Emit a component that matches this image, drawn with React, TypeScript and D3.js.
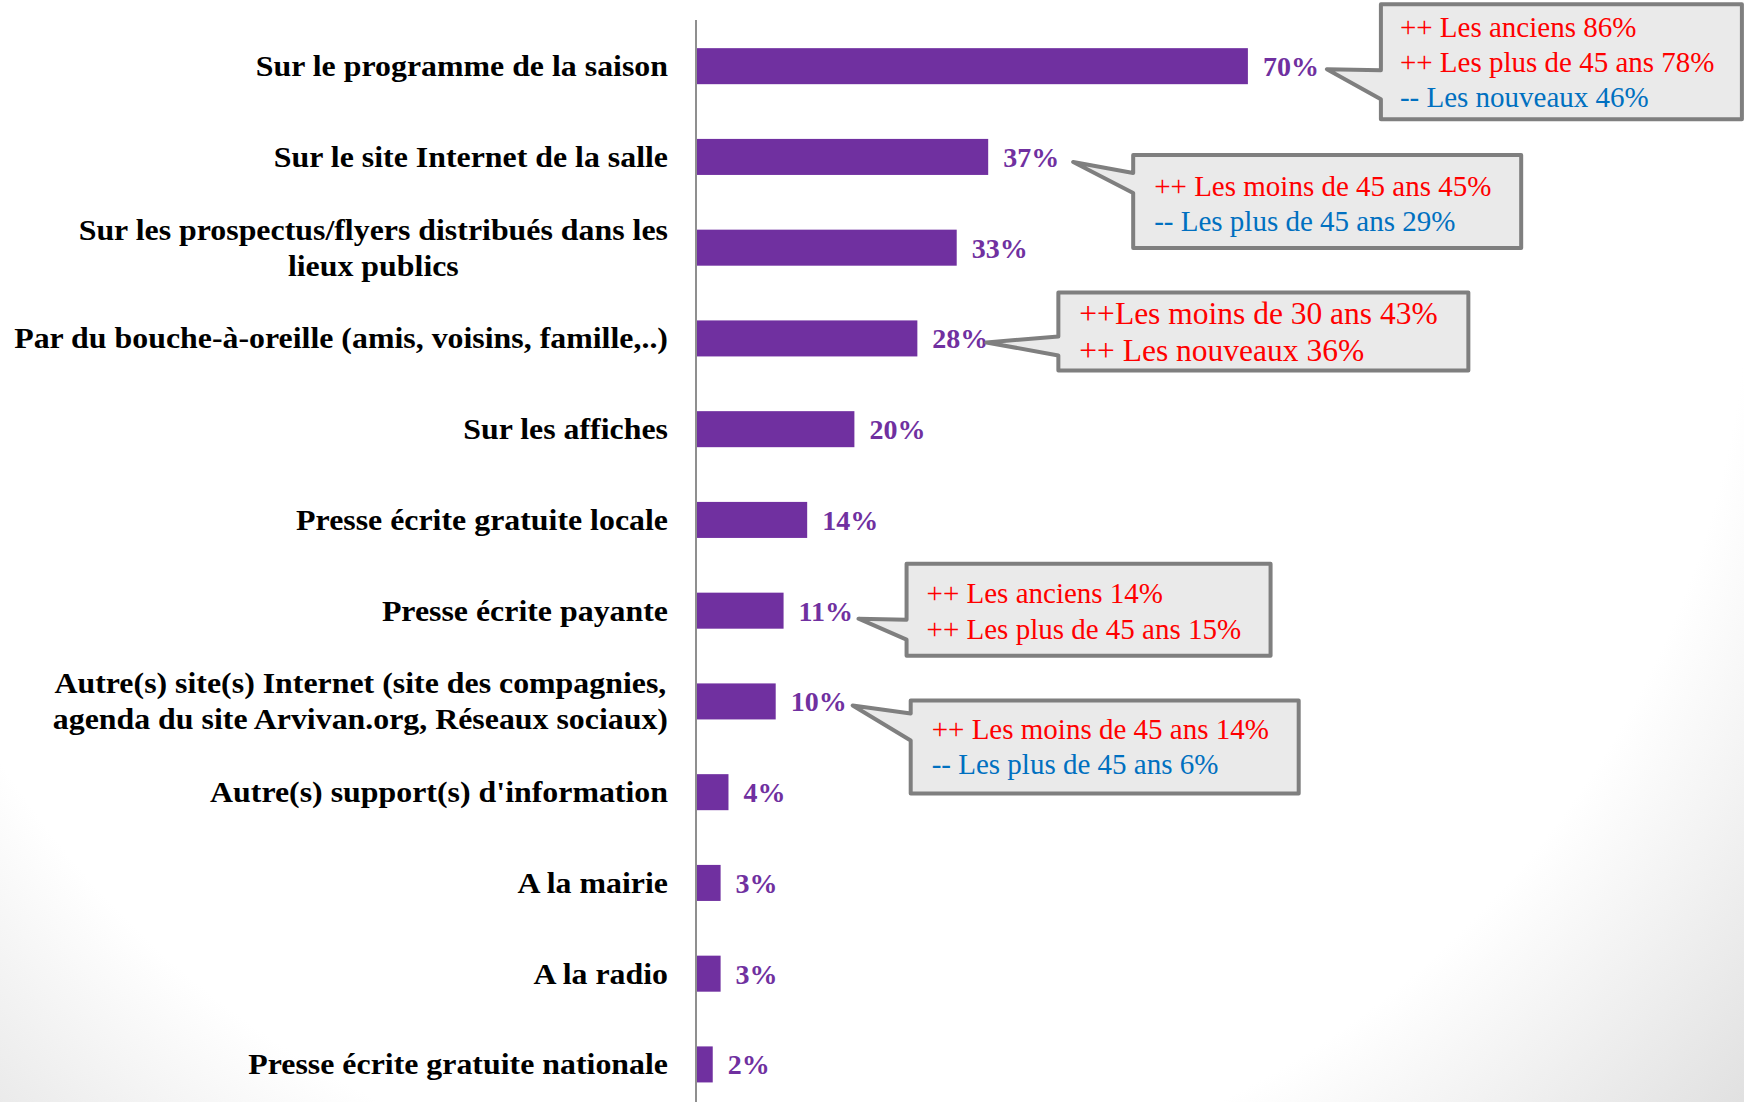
import React, { useEffect, useRef } from "react";
import * as d3 from "d3";

// ---------- DATA ----------
const categories: string[][] = [
  ["Sur le programme de la saison"],
  ["Sur le site Internet de la salle"],
  ["Sur les prospectus/flyers distribués dans les", "lieux publics"],
  ["Par du bouche-à-oreille (amis, voisins, famille,..)"],
  ["Sur les affiches"],
  ["Presse écrite gratuite locale"],
  ["Presse écrite payante"],
  ["Autre(s) site(s) Internet (site des compagnies,", "agenda du site Arvivan.org, Réseaux sociaux)"],
  ["Autre(s) support(s) d'information"],
  ["A la mairie"],
  ["A la radio"],
  ["Presse écrite gratuite nationale"],
];
const values: number[] = [0.7, 0.37, 0.33, 0.28, 0.2, 0.14, 0.11, 0.1, 0.04, 0.03, 0.03, 0.02];

const RED = "#FF0000";
const BLUE = "#0070C0";
const calloutRows: number[] = [0, 1, 3, 6, 7];
const calloutTexts: string[][] = [
  ["++ Les anciens 86%", "++ Les plus de 45 ans 78%", "-- Les nouveaux 46%"],
  ["++ Les moins de 45 ans 45%", "-- Les plus de 45 ans 29%"],
  ["++Les moins de 30 ans 43%", "++ Les nouveaux 36%"],
  ["++ Les anciens 14%", "++ Les plus de 45 ans 15%"],
  ["++ Les moins de 45 ans 14%", "-- Les plus de 45 ans 6%"],
];
const calloutColors: string[][] = [
  [RED, RED, BLUE],
  [RED, BLUE],
  [RED, RED],
  [RED, RED],
  [RED, BLUE],
];

// ---------- LAYOUT (annotation placement, not data) ----------
const calloutLayout = [
  { tipDx: 79, tipDy: 3, boxDx: 54, boxDy: -65, w: 361, h: 115, b0: 1, b1: 30, padX: 19, first: 33, gap: 35, fs: 29 },
  { tipDx: 85, tipDy: 5, boxDx: 60, boxDy: -7, w: 388, h: 93, b0: 11, b1: 31, padX: 21, first: 41, gap: 35, fs: 29 },
  { tipDx: 69, tipDy: 4, boxDx: 72, boxDy: -50, w: 410, h: 78, b0: -6, b1: 13, padX: 21, first: 32, gap: 37, fs: 31.5 },
  { tipDx: 75, tipDy: 8, boxDx: 48, boxDy: -55, w: 364, h: 92, b0: 1, b1: 21, padX: 20, first: 39, gap: 36, fs: 29 },
  { tipDx: 77, tipDy: 4, boxDx: 58, boxDy: -5, w: 388, h: 93, b0: 8, b1: 35, padX: 21, first: 39, gap: 35, fs: 29 },
];

const W = 1744;
const H = 1102;
const FONT = "'Liberation Serif', 'Times New Roman', serif";
const PURPLE = "#7030A0";

export default function App() {
  const ref = useRef<SVGSVGElement | null>(null);

  useEffect(() => {
    const svg = d3.select(ref.current);
    svg.selectAll("*").remove();

    const defs = svg.append("defs");
    const grad = defs
      .append("radialGradient")
      .attr("id", "bg")
      .attr("gradientUnits", "userSpaceOnUse")
      .attr("cx", 800)
      .attr("cy", 250)
      .attr("r", 1300);
    grad.append("stop").attr("offset", 0).attr("stop-color", "#ffffff");
    grad.append("stop").attr("offset", 0.73).attr("stop-color", "#ffffff");
    grad.append("stop").attr("offset", 1).attr("stop-color", "#dedede");

    svg.append("rect").attr("width", W).attr("height", H).attr("fill", "url(#bg)");

    const idx = d3.range(categories.length).map(String);
    const y = d3
      .scaleBand<string>()
      .domain(idx)
      .range([20.8, 1109.8])
      .paddingInner(0.603)
      .paddingOuter(0.3015);
    const x = d3.scaleLinear().domain([0, 1]).range([697, 697 + 787]);
    const fmt = d3.format(".0%");

    const cy = (i: number) => (y(String(i)) as number) + y.bandwidth() / 2;

    // axis line
    svg
      .append("line")
      .attr("x1", 696)
      .attr("x2", 696)
      .attr("y1", 20)
      .attr("y2", H)
      .attr("stroke", "#8f8f8f")
      .attr("stroke-width", 2);

    // bars
    svg
      .append("g")
      .selectAll("rect")
      .data(values)
      .join("rect")
      .attr("x", x(0))
      .attr("y", (_d, i) => y(String(i)) as number)
      .attr("width", (d) => x(d) - x(0))
      .attr("height", y.bandwidth())
      .attr("fill", PURPLE);

    // value labels
    svg
      .append("g")
      .selectAll("text")
      .data(values)
      .join("text")
      .attr("x", (d) => x(d) + 15)
      .attr("y", (_d, i) => cy(i) + 10)
      .attr("font-family", FONT)
      .attr("font-weight", "bold")
      .attr("font-size", 28)
      .attr("fill", PURPLE)
      .text((d) => fmt(d));

    // category labels
    const labelRight = 668;
    const stretch = 1.045;
    categories.forEach((lines, i) => {
      const c = cy(i);
      const g = svg
        .append("g")
        .attr("transform", `translate(${labelRight},0) scale(${stretch},1) translate(${-labelRight},0)`);
      const texts = lines.map((ln, k) => {
        const baseline = lines.length === 1 ? c + 10 : c + 10 - 18 + k * 36;
        return g
          .append("text")
          .attr("y", baseline)
          .attr("font-family", FONT)
          .attr("font-weight", "bold")
          .attr("font-size", 30.5)
          .attr("fill", "#000")
          .text(ln);
      });
      const widths = texts.map((t) => (t.node() as SVGTextElement).getComputedTextLength());
      const maxW = Math.max(...widths);
      const center = labelRight - maxW / 2;
      texts.forEach((t) => t.attr("x", center).attr("text-anchor", "middle"));
    });

    // callouts
    calloutRows.forEach((row, k) => {
      const L = calloutLayout[k];
      const tx = x(values[row]) + L.tipDx;
      const ty = cy(row) + L.tipDy;
      const left = tx + L.boxDx;
      const top = ty + L.boxDy;
      const right = left + L.w;
      const bottom = top + L.h;
      const p = d3.path();
      p.moveTo(left, top);
      p.lineTo(right, top);
      p.lineTo(right, bottom);
      p.lineTo(left, bottom);
      p.lineTo(left, ty + L.b1);
      p.lineTo(tx, ty);
      p.lineTo(left, ty + L.b0);
      p.closePath();
      svg
        .append("path")
        .attr("d", p.toString())
        .attr("fill", "#EAEAEA")
        .attr("stroke", "#7F7F7F")
        .attr("stroke-width", 4)
        .attr("stroke-linejoin", "round");
      calloutTexts[k].forEach((ln, j) => {
        svg
          .append("text")
          .attr("x", left + L.padX)
          .attr("y", top + L.first + j * L.gap)
          .attr("font-family", FONT)
          .attr("font-size", L.fs)
          .attr("fill", calloutColors[k][j])
          .text(ln);
      });
    });
  }, []);

  return (
    <svg
      ref={ref}
      width={W}
      height={H}
      style={{ position: "absolute", left: 0, top: 0, display: "block" }}
    />
  );
}
